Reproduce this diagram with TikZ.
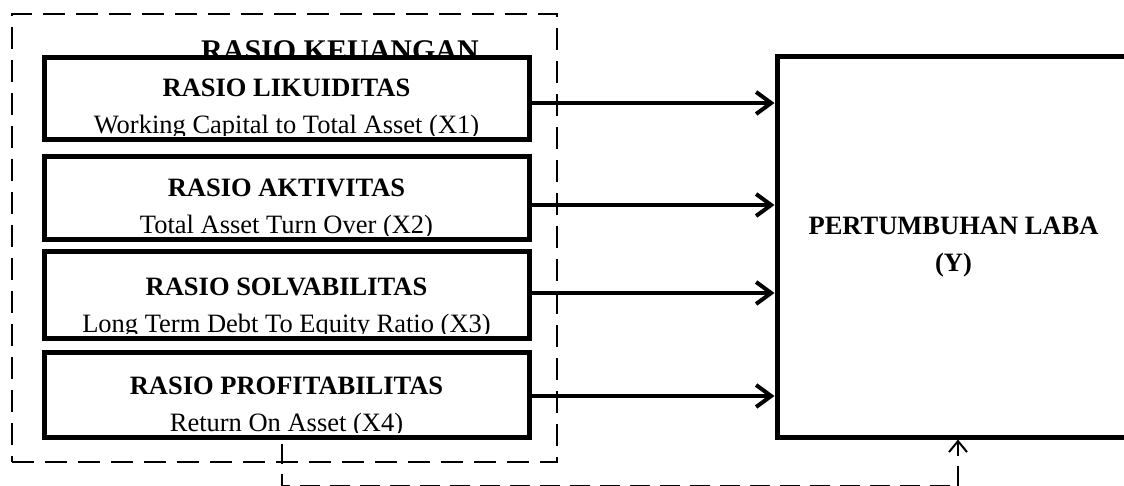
\documentclass[tikz,border=0pt]{standalone}
\usepackage{fontspec}
\setmainfont{Liberation Serif}
\usetikzlibrary{arrows.meta}

\begin{document}
\begin{tikzpicture}[x=1pt,y=-1pt,>={Straight Barb[length=15pt,width=22pt]},
                    line join=miter]
  \tikzstyle{ratio}=[draw,fill=white,line width=5pt,minimum width=485pt,inner sep=0pt]
  \tikzstyle{head}=[anchor=base,inner sep=0pt,font=\fontsize{26.5}{32}\selectfont\bfseries]
  \tikzstyle{sub}=[anchor=base,inner sep=0pt,font=\fontsize{26.5}{32}\selectfont]
  \tikzstyle{frame}=[draw,line width=2.5pt,dash pattern=on 22pt off 11pt]
  \tikzstyle{feed}=[line width=2pt,dash pattern=on 20pt off 10pt]

  \useasboundingbox (0,0) rectangle (1124,486);

  \node[frame,minimum width=545pt,minimum height=448pt] (keu) at (284.5,238) {};
  \node[head,font=\fontsize{30}{36}\selectfont\bfseries] (keut) at (340,61) {RASIO KEUANGAN};

  \foreach \i/\yc/\hh/\lbl/\desc in {
      1/99/82/RASIO LIKUIDITAS/Working Capital to Total Asset (X1),
      2/198.5/83/RASIO AKTIVITAS/Total Asset Turn Over (X2),
      3/295/86/RASIO SOLVABILITAS/Long Term Debt To Equity Ratio (X3),
      4/394.5/85/RASIO PROFITABILITAS/Return On Asset (X4)}
  {
    \node[ratio,minimum height=\hh pt] (b\i) at (286.5,\yc) {};
    \begin{scope}
      \clip (b\i.north west) rectangle ([yshift=7pt]b\i.south east);
      \node[head] (t\i) at ([yshift=45.5pt]b\i.south) {\lbl};
      \node[sub]  (s\i) at ([yshift=8.5pt]b\i.south) {\desc};
    \end{scope}
  }

  \node[draw,line width=5pt,minimum width=353pt,minimum height=380pt,
        align=center,font=\fontsize{26.5}{37}\selectfont\bfseries]
        (laba) at (953.5,247) {PERTUMBUHAN LABA\\(Y)};

  \foreach \i/\d in {1/-4,2/-6.5,3/2,4/-1.5}
    \draw[->,line width=4pt] ([yshift=\d pt]b\i.east) coordinate (p\i)
          -- (p\i -| laba.west);

  % dashed feedback line under the frame
  \coordinate (tl) at (282,444);
  \coordinate (bl) at (282,486);
  \coordinate (br) at (958,486);
  \draw[feed] (tl) -- (bl) -- (br);
  \draw[feed,-{Straight Barb[length=11pt,width=18pt]}] (br) -- (br |- laba.south);
\end{tikzpicture}
\end{document}
